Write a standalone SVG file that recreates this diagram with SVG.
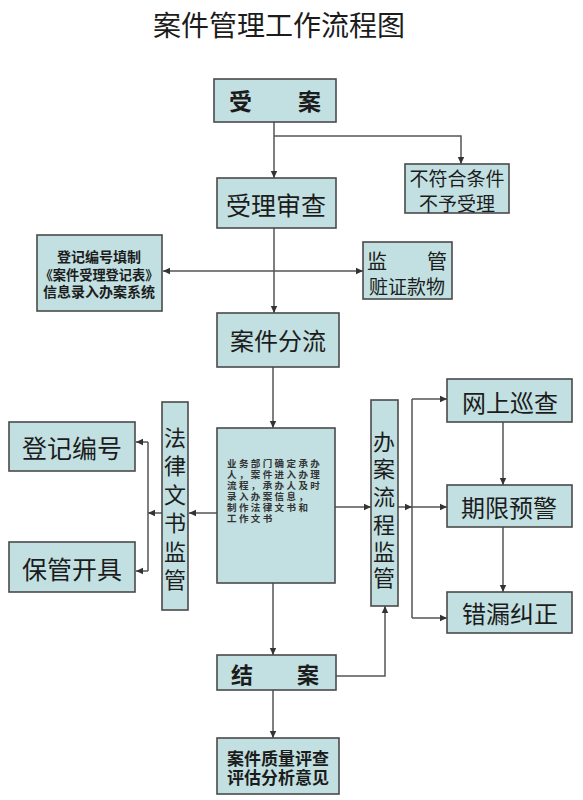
<svg xmlns="http://www.w3.org/2000/svg" width="583" height="800" viewBox="0 0 583 800">
<defs>
<marker id="ah" markerWidth="8" markerHeight="8" refX="7" refY="4" orient="auto" markerUnits="userSpaceOnUse">
<path d="M0,0.8 L7,4 L0,7.2 Z" fill="#333"/>
</marker>
<style>
.box{fill:#c2e0e1;stroke:#4a4a4a;stroke-width:1.6}
.t{font-family:"Noto Sans CJK SC","Noto Sans",sans-serif;fill:#1c1c1c;text-anchor:middle;dominant-baseline:central}
.c{fill:none;stroke:#555;stroke-width:1.5}
.ca{fill:none;stroke:#555;stroke-width:1.5;marker-end:url(#ah)}
</style>
</defs>
<rect width="583" height="800" fill="#ffffff"/>
<text class="t" x="279" y="24" font-size="28">案件管理工作流程图</text>

<g id="connectors">
<path class="ca" d="M274,122 V178"/>
<path class="ca" d="M274,136 H461 V164"/>
<path class="ca" d="M274,228 V313"/>
<path class="ca" d="M274,271 H163"/>
<path class="ca" d="M274,271 H363"/>
<path class="ca" d="M273,367 V428"/>
<path class="ca" d="M217,513 H189"/>
<path class="ca" d="M162,513 H148"/>
<path class="c" d="M148,442 V571"/>
<path class="ca" d="M148,442 H136"/>
<path class="ca" d="M148,571 H136"/>
<path class="ca" d="M335,507 H371"/>
<path class="ca" d="M398,507 H412"/>
<path class="c" d="M412,399 V618"/>
<path class="ca" d="M412,399 H447"/>
<path class="ca" d="M412,507 H447"/>
<path class="ca" d="M412,618 H447"/>
<path class="ca" d="M503,422 V485"/>
<path class="ca" d="M503,527 V592"/>
<path class="ca" d="M273,583 V655"/>
<path class="ca" d="M336,676 H385 V606"/>
<path class="ca" d="M273,690 V738"/>
</g>

<g id="n-shouan">
<rect class="box" x="214" y="79" width="122" height="43"/>
<text class="t" x="275" y="100" font-size="23" font-weight="bold">受　　案</text>
</g>
<g id="n-bufuhe">
<rect class="box" x="405" y="164" width="104" height="49"/>
<text class="t" x="457" y="177" font-size="19">不符合条件</text>
<text class="t" x="457" y="202" font-size="19">不予受理</text>
</g>
<g id="n-shencha">
<rect class="box" x="217" y="178" width="119" height="50"/>
<text class="t" x="276" y="204" font-size="25">受理审查</text>
</g>
<g id="n-dengji-tianzhi">
<rect class="box" x="37" y="235" width="125" height="76"/>
<text class="t" x="99" y="256" font-size="14" font-weight="bold">登记编号填制</text>
<text class="t" x="99" y="274" font-size="13.2" font-weight="bold">《案件受理登记表》</text>
<text class="t" x="99" y="291" font-size="14" font-weight="bold">信息录入办案系统</text>
</g>
<g id="n-jianguan-zang">
<rect class="box" x="363" y="242" width="89" height="57"/>
<text class="t" x="407" y="260" font-size="20">监　　管</text>
<text class="t" x="407" y="285" font-size="19">赃证款物</text>
</g>
<g id="n-fenliu">
<rect class="box" x="217" y="313" width="122" height="54"/>
<text class="t" x="278" y="339" font-size="24">案件分流</text>
</g>
<g id="n-yewu">
<rect class="box" x="217" y="428" width="118" height="155"/>
<g class="t" font-size="9.5" font-weight="bold" style="text-anchor:start;fill:#333" letter-spacing="2.4">
<text x="227" y="463">业务部门确定承办</text>
<text x="227" y="474">人，案件进入办理</text>
<text x="227" y="485">流程，承办人及时</text>
<text x="227" y="496">录入办案信息，</text>
<text x="227" y="507">制作法律文书和</text>
<text x="227" y="518">工作文书</text>
</g>
</g>
<g id="n-falv">
<rect class="box" x="162" y="402" width="26" height="208"/>
<text class="t" x="175" y="436" font-size="22">法</text>
<text class="t" x="175" y="464" font-size="22">律</text>
<text class="t" x="175" y="493" font-size="22">文</text>
<text class="t" x="175" y="521" font-size="22">书</text>
<text class="t" x="175" y="550" font-size="22">监</text>
<text class="t" x="175" y="578" font-size="22">管</text>
</g>
<g id="n-dengjibianhao">
<rect class="box" x="9" y="422" width="126" height="49"/>
<text class="t" x="72" y="447" font-size="25">登记编号</text>
</g>
<g id="n-baoguan">
<rect class="box" x="9" y="542" width="126" height="50"/>
<text class="t" x="72" y="568" font-size="25">保管开具</text>
</g>
<g id="n-banan">
<rect class="box" x="371" y="400" width="27" height="206"/>
<text class="t" x="384" y="440" font-size="22">办</text>
<text class="t" x="384" y="467" font-size="22">案</text>
<text class="t" x="384" y="495" font-size="22">流</text>
<text class="t" x="384" y="523" font-size="22">程</text>
<text class="t" x="384" y="550" font-size="22">监</text>
<text class="t" x="384" y="576" font-size="22">管</text>
</g>
<g id="n-wangshang">
<rect class="box" x="447" y="379" width="125" height="43"/>
<text class="t" x="510" y="401" font-size="24">网上巡查</text>
</g>
<g id="n-qixian">
<rect class="box" x="447" y="485" width="125" height="42"/>
<text class="t" x="509" y="506" font-size="24">期限预警</text>
</g>
<g id="n-cuolou">
<rect class="box" x="447" y="592" width="125" height="41"/>
<text class="t" x="510" y="612" font-size="24">错漏纠正</text>
</g>
<g id="n-jiean">
<rect class="box" x="217" y="655" width="119" height="35"/>
<text class="t" x="275" y="673" font-size="22" font-weight="bold">结　　案</text>
</g>
<g id="n-pingcha">
<rect class="box" x="217" y="738" width="122" height="56"/>
<text class="t" x="278" y="757" font-size="17" font-weight="bold">案件质量评查</text>
<text class="t" x="278" y="776" font-size="17" font-weight="bold">评估分析意见</text>
</g>
</svg>
